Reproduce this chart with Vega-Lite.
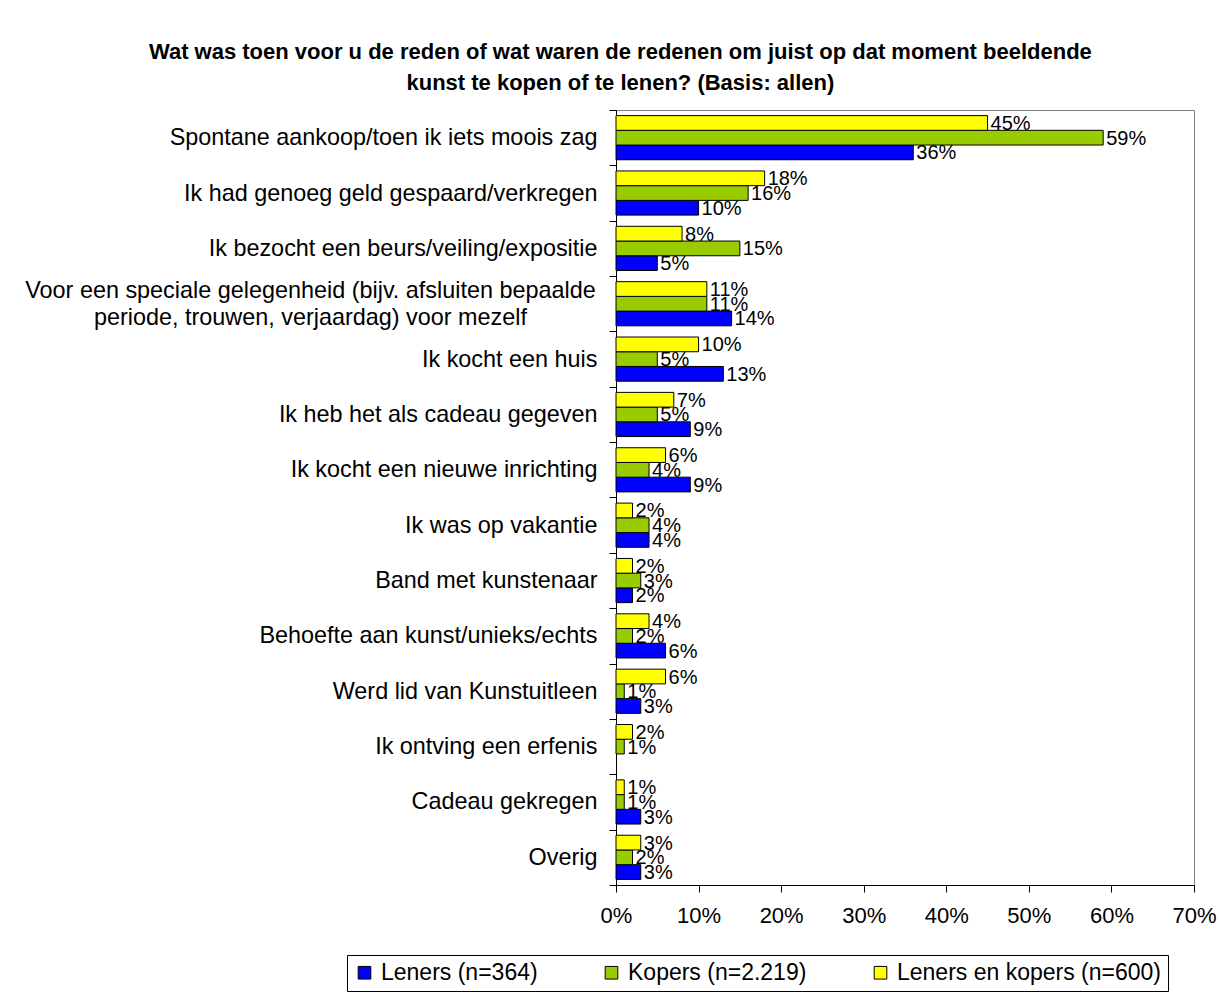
{
  "$schema": "https://vega.github.io/schema/vega-lite/v6.json",
  "width": 578,
  "height": 775,
  "autosize": {"type": "none"},
  "padding": {"left": 616, "top": 110, "right": 25, "bottom": 116},
  "background": "white",
  "config": {
    "font": "Liberation Sans",
    "view": {"stroke": "#808080", "strokeWidth": 1},
    "axis": {"grid": false}
  },
  "title": {
    "text": ["Wat was toen voor u de reden of wat waren de redenen om juist op dat moment beeldende", "kunst te kopen of te lenen? (Basis: allen)"],
    "fontSize": 22,
    "fontWeight": "bold",
    "font": "Liberation Sans",
    "color": "black",
    "anchor": "middle",
    "frame": "bounds",
    "lineHeight": 31,
    "offset": 3
  },
  "data": {
    "values": [
      {"reason": "Spontane aankoop/toen ik iets moois zag", "group": "Leners (n=364)", "value": 0.36},
      {"reason": "Spontane aankoop/toen ik iets moois zag", "group": "Kopers (n=2.219)", "value": 0.59},
      {"reason": "Spontane aankoop/toen ik iets moois zag", "group": "Leners en kopers (n=600)", "value": 0.45},
      {"reason": "Ik had genoeg geld gespaard/verkregen", "group": "Leners (n=364)", "value": 0.10},
      {"reason": "Ik had genoeg geld gespaard/verkregen", "group": "Kopers (n=2.219)", "value": 0.16},
      {"reason": "Ik had genoeg geld gespaard/verkregen", "group": "Leners en kopers (n=600)", "value": 0.18},
      {"reason": "Ik bezocht een beurs/veiling/expositie", "group": "Leners (n=364)", "value": 0.05},
      {"reason": "Ik bezocht een beurs/veiling/expositie", "group": "Kopers (n=2.219)", "value": 0.15},
      {"reason": "Ik bezocht een beurs/veiling/expositie", "group": "Leners en kopers (n=600)", "value": 0.08},
      {"reason": "Voor een speciale gelegenheid (bijv. afsluiten bepaalde|periode, trouwen, verjaardag) voor mezelf", "group": "Leners (n=364)", "value": 0.14},
      {"reason": "Voor een speciale gelegenheid (bijv. afsluiten bepaalde|periode, trouwen, verjaardag) voor mezelf", "group": "Kopers (n=2.219)", "value": 0.11},
      {"reason": "Voor een speciale gelegenheid (bijv. afsluiten bepaalde|periode, trouwen, verjaardag) voor mezelf", "group": "Leners en kopers (n=600)", "value": 0.11},
      {"reason": "Ik kocht een huis", "group": "Leners (n=364)", "value": 0.13},
      {"reason": "Ik kocht een huis", "group": "Kopers (n=2.219)", "value": 0.05},
      {"reason": "Ik kocht een huis", "group": "Leners en kopers (n=600)", "value": 0.10},
      {"reason": "Ik heb het als cadeau gegeven", "group": "Leners (n=364)", "value": 0.09},
      {"reason": "Ik heb het als cadeau gegeven", "group": "Kopers (n=2.219)", "value": 0.05},
      {"reason": "Ik heb het als cadeau gegeven", "group": "Leners en kopers (n=600)", "value": 0.07},
      {"reason": "Ik kocht een nieuwe inrichting", "group": "Leners (n=364)", "value": 0.09},
      {"reason": "Ik kocht een nieuwe inrichting", "group": "Kopers (n=2.219)", "value": 0.04},
      {"reason": "Ik kocht een nieuwe inrichting", "group": "Leners en kopers (n=600)", "value": 0.06},
      {"reason": "Ik was op vakantie", "group": "Leners (n=364)", "value": 0.04},
      {"reason": "Ik was op vakantie", "group": "Kopers (n=2.219)", "value": 0.04},
      {"reason": "Ik was op vakantie", "group": "Leners en kopers (n=600)", "value": 0.02},
      {"reason": "Band met kunstenaar", "group": "Leners (n=364)", "value": 0.02},
      {"reason": "Band met kunstenaar", "group": "Kopers (n=2.219)", "value": 0.03},
      {"reason": "Band met kunstenaar", "group": "Leners en kopers (n=600)", "value": 0.02},
      {"reason": "Behoefte aan kunst/unieks/echts", "group": "Leners (n=364)", "value": 0.06},
      {"reason": "Behoefte aan kunst/unieks/echts", "group": "Kopers (n=2.219)", "value": 0.02},
      {"reason": "Behoefte aan kunst/unieks/echts", "group": "Leners en kopers (n=600)", "value": 0.04},
      {"reason": "Werd lid van Kunstuitleen", "group": "Leners (n=364)", "value": 0.03},
      {"reason": "Werd lid van Kunstuitleen", "group": "Kopers (n=2.219)", "value": 0.01},
      {"reason": "Werd lid van Kunstuitleen", "group": "Leners en kopers (n=600)", "value": 0.06},
      {"reason": "Ik ontving een erfenis", "group": "Kopers (n=2.219)", "value": 0.01},
      {"reason": "Ik ontving een erfenis", "group": "Leners en kopers (n=600)", "value": 0.02},
      {"reason": "Cadeau gekregen", "group": "Leners (n=364)", "value": 0.03},
      {"reason": "Cadeau gekregen", "group": "Kopers (n=2.219)", "value": 0.01},
      {"reason": "Cadeau gekregen", "group": "Leners en kopers (n=600)", "value": 0.01},
      {"reason": "Overig", "group": "Leners (n=364)", "value": 0.03},
      {"reason": "Overig", "group": "Kopers (n=2.219)", "value": 0.02},
      {"reason": "Overig", "group": "Leners en kopers (n=600)", "value": 0.03}
    ]
  },
  "encoding": {
    "y": {
      "field": "reason",
      "type": "nominal",
      "sort": null,
      "scale": {"paddingInner": 0, "paddingOuter": 0},
      "axis": {
        "title": null,
        "labelFontSize": 23.4,
        "labelColor": "black",
        "labelPadding": 12,
        "tickSize": 7,
        "tickColor": "black",
        "domainColor": "black",
        "tickBand": "extent",
        "labelExpr": "split(datum.label + '', '|')",
        "labelLimit": 700,
        "labelLineHeight": 27,
        "encoding": {
          "labels": {
            "dy": {"condition": {"test": "indexof(datum.value + '', '|') >= 0", "value": -13}, "value": 0},
            "dx": {"condition": {"test": "indexof(datum.value + '', '|') >= 0", "value": -287}, "value": 0},
            "align": {"condition": {"test": "indexof(datum.value + '', '|') >= 0", "value": "center"}, "value": "right"}
          }
        }
      }
    },
    "yOffset": {
      "field": "group",
      "type": "nominal",
      "sort": ["Leners en kopers (n=600)", "Kopers (n=2.219)", "Leners (n=364)"],
      "scale": {"paddingInner": 0, "paddingOuter": 0.38}
    },
    "x": {
      "field": "value",
      "type": "quantitative",
      "scale": {"domain": [0, 0.7]},
      "axis": {
        "title": null,
        "format": ".0%",
        "values": [0, 0.1, 0.2, 0.3, 0.4, 0.5, 0.6, 0.7],
        "labelFontSize": 22,
        "labelColor": "black",
        "tickSize": 7,
        "tickColor": "black",
        "domainColor": "black",
        "labelPadding": 13,
        "labelFlush": false
      }
    }
  },
  "layer": [
    {
      "mark": {"type": "bar", "stroke": "black", "strokeWidth": 1},
      "encoding": {
        "color": {
          "field": "group",
          "type": "nominal",
          "scale": {
            "domain": ["Leners (n=364)", "Kopers (n=2.219)", "Leners en kopers (n=600)"],
            "range": ["#0000FF", "#99CC00", "#FFFF00"]
          },
          "legend": {
            "orient": "none",
            "legendX": -269,
            "legendY": 845,
            "direction": "horizontal",
            "title": null,
            "strokeColor": "black",
            "fillColor": "white",
            "padding": 6,
            "symbolType": "square",
            "symbolSize": 160,
            "symbolStrokeColor": "black",
            "symbolStrokeWidth": 1,
            "symbolOpacity": 1,
            "labelFontSize": 23,
            "labelColor": "black",
            "labelOffset": 5,
            "columnPadding": 62,
            "labelLimit": 400
          }
        }
      }
    },
    {
      "mark": {"type": "text", "align": "left", "baseline": "middle", "dx": 3, "dy": 1, "fontSize": 20, "color": "black"},
      "encoding": {
        "text": {"field": "value", "type": "quantitative", "format": ".0%"}
      }
    }
  ]
}
